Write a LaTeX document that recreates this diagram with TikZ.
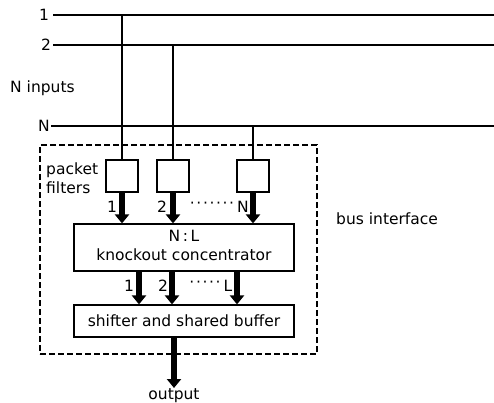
\documentclass[tikz,border=0pt]{standalone}
\usepackage{fontspec}
\setmainfont{DejaVu Sans}
\usetikzlibrary{arrows.meta}
\begin{document}
\begin{tikzpicture}[x=1pt,y=-1pt,
  every node/.style={font=\fontsize{15.5}{18.5}\selectfont, inner sep=0pt},
  bus/.style={line width=1.3pt},
  box/.style={draw, line width=1.2pt, inner sep=0pt},
  fatarrow/.style={line width=5.5pt, -{Triangle[width=14pt,length=9pt]}},
  dashbox/.style={draw, line width=1.2pt, dash pattern=on 6pt off 3pt}]
\useasboundingbox (0,0) rectangle (494,402);
% bus lines
\node (l1) at (44,15) {1};
\node (l2) at (46,45) {2};
\node (lN) at (44,126) {N};
\node[anchor=west] (nin) at (10,88) {N inputs};
\coordinate (b1s) at (53,15);  \coordinate (b1e) at (494,15);
\coordinate (b2s) at (53,45);  \coordinate (b2e) at (494,45);
\coordinate (bNs) at (51,126); \coordinate (bNe) at (494,126);
\draw[bus] (b1s) -- (b1e);
\draw[bus] (b2s) -- (b2e);
\draw[bus] (bNs) -- (bNe);
% dashed bus interface
\node[dashbox, minimum width=277pt, minimum height=209pt] (bi) at (178.5,249.5) {};
\node[anchor=west] (bil) at (336,219) {bus interface};
% packet filters
\node[box, minimum width=32pt, minimum height=32pt] (f1) at (122,176) {};
\node[box, minimum width=32pt, minimum height=32pt] (f2) at (173,176) {};
\node[box, minimum width=32pt, minimum height=32pt] (f3) at (253,176) {};
\node[anchor=west, align=left] (pf) at (46,178) {packet\\filters};
\coordinate (t1) at (122,15);
\coordinate (t2) at (173,45);
\coordinate (t3) at (253,126);
\draw[bus] (t1) -- (f1.north);
\draw[bus] (t2) -- (f2.north);
\draw[bus] (t3) -- (f3.north);
% concentrator
\node[box, minimum width=220pt, minimum height=47pt] (kc) at (184,247.5) {};
\node (kc1) at (184,236) {N\,:\,L};
\node (kc2) at (184,255) {knockout concentrator};
\draw[fatarrow] (f1.south) -- (f1.south |- kc.north);
\draw[fatarrow] (f2.south) -- (f2.south |- kc.north);
\draw[fatarrow] (f3.south) -- (f3.south |- kc.north);
\node (a1) at (112,207) {1};
\node (a2) at (162,207) {2};
\node (ad) at (212,205) {·\kern1.6pt·\kern1.6pt·\kern1.6pt·\kern1.6pt·\kern1.6pt·\kern1.6pt·};
\node (aN) at (243,207) {N};
% shifter
\node[box, minimum width=220pt, minimum height=32pt] (sb) at (184,321) {shifter and shared buffer};
\coordinate (o1) at (139,0);
\coordinate (o2) at (172,0);
\coordinate (o3) at (237,0);
\draw[fatarrow] (o1 |- kc.south) -- (o1 |- sb.north);
\draw[fatarrow] (o2 |- kc.south) -- (o2 |- sb.north);
\draw[fatarrow] (o3 |- kc.south) -- (o3 |- sb.north);
\node (c1) at (129,286) {1};
\node (c2) at (163,286) {2};
\node (cd) at (205,284) {·\kern1.6pt·\kern1.6pt·\kern1.6pt·\kern1.6pt·};
\node (cL) at (228,286) {L};
% output
\coordinate (oo) at (174,0);
\draw[fatarrow] (oo |- sb.south) -- (174,388) coordinate (oe);
\node (out) at (174,396) {output};
\end{tikzpicture}
\end{document}
